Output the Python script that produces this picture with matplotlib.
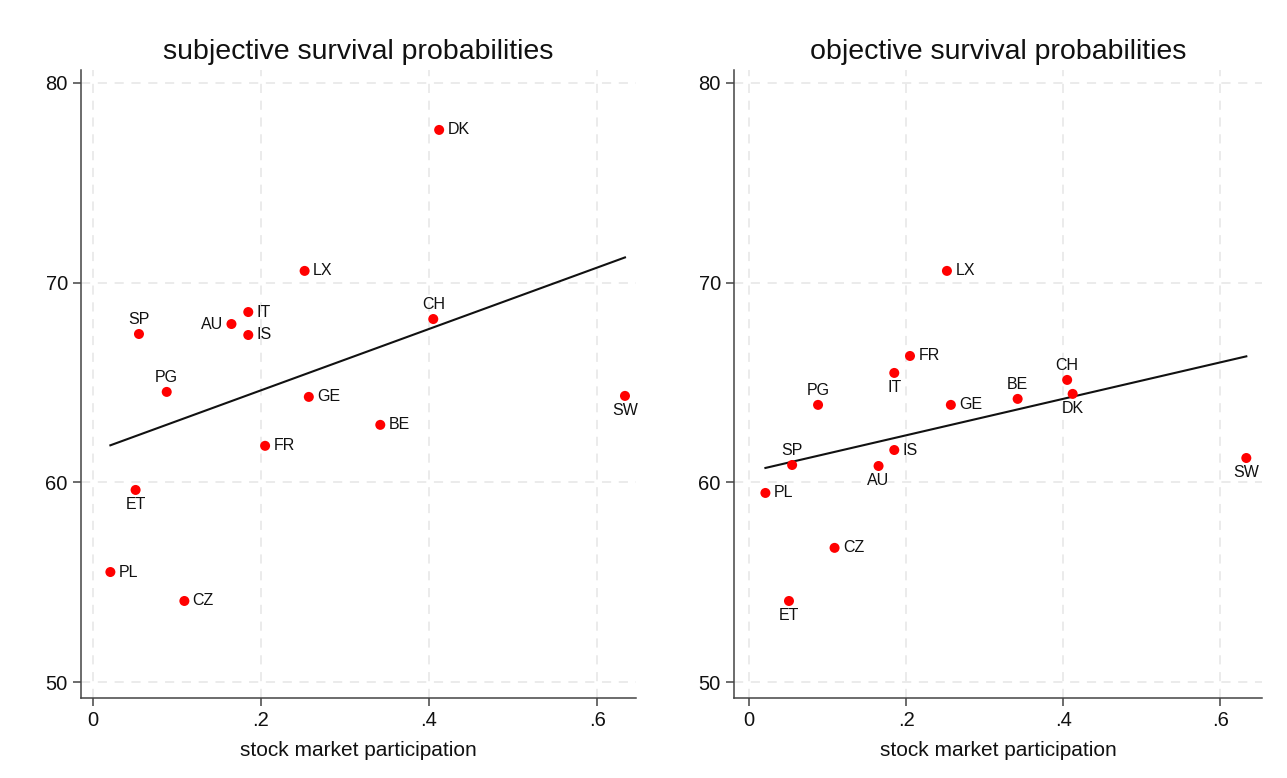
import matplotlib.pyplot as plt
import numpy as np

plt.rcParams['font.family'] = ['Liberation Sans', 'DejaVu Sans']

countries = ["DK", "LX", "CH", "IT", "AU", "IS", "SP", "PG", "GE", "SW", "BE", "FR", "ET", "PL", "CZ"]
stock = [0.412, 0.252, 0.405, 0.185, 0.165, 0.185, 0.055, 0.088, 0.257, 0.633, 0.342, 0.205, 0.051, 0.021, 0.109]
subj = [77.65, 70.59, 68.18, 68.53, 67.93, 67.38, 67.43, 64.53, 64.28, 64.33, 62.88, 61.83, 59.62, 55.51, 54.06]
obj = [64.43, 70.59, 65.13, 65.48, 60.82, 61.62, 60.87, 63.88, 63.88, 61.22, 64.18, 66.33, 54.06, 59.47, 56.72]

# label position for each country (r = right, a = above, b = below, l = left)
pos_subj = ["r", "r", "a", "r", "l", "r", "a", "a", "r", "b", "r", "r", "b", "r", "r"]
pos_obj = ["b", "r", "a", "b", "b", "r", "a", "a", "r", "b", "a", "r", "b", "r", "r"]

yticks = [50, 60, 70, 80]
xticks = [0, 0.2, 0.4, 0.6]
xticklabels = ["0", ".2", ".4", ".6"]

offsets = {"r": ((6, 0), "left", "center"),
           "l": ((-6, 0), "right", "center"),
           "a": ((0, 5), "center", "bottom"),
           "b": ((0, -5), "center", "top")}

fig = plt.figure(figsize=(12.87, 7.78), dpi=100)
ax1 = fig.add_axes([0.0629, 0.1028, 0.4312, 0.8072])
ax2 = fig.add_axes([0.5703, 0.1028, 0.4103, 0.8072])


def panel(ax, y, pos, title, xlim):
    x = np.array(stock)
    y = np.array(y)
    b, a = np.polyfit(x, y, 1)
    xs = np.array([x.min(), x.max()])
    ax.plot(xs, a + b * xs, color="#111111", lw=1.5, zorder=2)
    ax.scatter(x, y, s=52, color="red", edgecolors="none", zorder=3)
    for c, xi, yi, p in zip(countries, x, y, pos):
        off, ha, va = offsets[p]
        ax.annotate(c, (xi, yi), xytext=off, textcoords="offset points",
                    ha=ha, va=va, fontsize=11.5, color="#111111")
    ax.set_xlim(*xlim)
    ax.set_ylim(49.2, 80.65)
    ax.set_xticks(xticks)
    ax.set_xticklabels(xticklabels)
    ax.set_yticks(yticks)
    ax.grid(True, color="#e6e6e6", ls=(0, (6, 5)), lw=1.1)
    ax.set_axisbelow(True)
    for s in ["top", "right"]:
        ax.spines[s].set_visible(False)
    for s in ["left", "bottom"]:
        ax.spines[s].set_color("#444444")
        ax.spines[s].set_linewidth(1.1)
    ax.tick_params(direction="out", length=6, width=1.1, color="#444444",
                   labelsize=14.5, labelcolor="#111111")
    ax.set_xlabel("stock market participation", fontsize=15, labelpad=8, color="#111111")
    ax.set_title(title, fontsize=20.5, pad=8, color="#111111")


panel(ax1, subj, pos_subj, "subjective survival probabilities", (-0.014, 0.646))
panel(ax2, obj, pos_obj, "objective survival probabilities", (-0.019, 0.653))

plt.savefig("out.png", dpi=100)
